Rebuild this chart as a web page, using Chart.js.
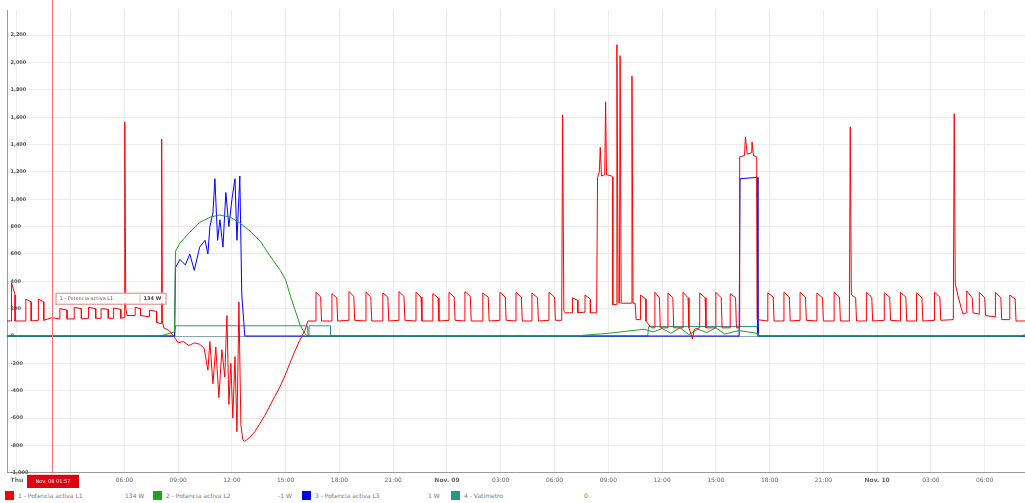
<!DOCTYPE html>
<html>
<head>
<meta charset="utf-8">
<script src="https://cdn.jsdelivr.net/npm/chart.js@4/dist/chart.umd.min.js"></script>
<style>
  body { margin: 0; background: #fff; font-family: "DejaVu Sans", sans-serif; }
  #wrap { position: relative; width: 1025px; height: 503px; }
  #grafico { position: absolute; left: 0; top: 0; }
  #leyenda { position: absolute; left: 0; top: 491px; width: 1025px; height: 12px; font-size: 6px; color: #777; }
  #leyenda span { position: absolute; top: 1px; white-space: nowrap; }
  #leyenda i { position: absolute; top: 0; width: 9px; height: 9px; }
</style>
</head>
<body>
<div id="wrap">
  <canvas id="grafico" width="1025" height="488"></canvas>
  <div id="leyenda"></div>
</div>
<script>
// horas desde Nov. 08 00:00, potencia en W
const rojoL1 = [
  [-0.55,110],[-0.3,110],[-0.3,390],[-0.1,300],[-0.1,110],
  [0.5,110],[0.5,270],[0.8,250],[0.8,110],
  [1.2,115],[1.2,270],[1.5,250],[1.5,115],[1.95,134],
  [2.4,125],[2.4,200],[2.8,190],[2.8,125],
  [3.2,125],[3.2,210],[3.6,200],[3.6,125],
  [4.0,130],[4.0,210],[4.4,200],[4.4,130],
  [4.7,130],[4.7,200],[5.1,195],[5.1,130],
  [5.4,130],[5.4,205],[5.8,195],[5.8,130],
  [6.0,135],[6.02,1566],[6.08,200],[6.15,150],
  [6.6,150],[6.6,210],[6.9,200],[6.9,150],[7.4,140],[7.4,190],[7.8,180],[7.8,100],
  [8.05,90],[8.08,1440],[8.12,110],[8.2,60],
  [8.5,40],[8.8,-10],[9.0,-50],[9.3,-40],[9.6,-70],[9.9,-50],[10.2,-60],[10.45,-90],
  [10.66,-250],[10.77,-40],[10.94,-350],[11.1,-80],[11.27,-450],[11.44,-100],[11.6,-300],[11.72,150],
  [11.83,-500],[11.94,-200],[12.05,-600],[12.17,-150],[12.28,-700],[12.39,250],[12.5,-650],[12.61,-760],
  [12.72,-770],[13.0,-740],[13.28,-700],[13.56,-640],[13.84,-580],[14.12,-510],[14.4,-440],[14.68,-370],
  [14.96,-290],[15.23,-200],[15.51,-110],[15.79,-30],[16.07,40],[16.24,110],
  [16.69,110],[16.69,320],[16.95,285],[17.0,110],
  [17.58,110],[17.58,310],[17.85,280],[17.9,110],
  [18.53,115],[18.53,325],[18.8,290],[18.85,115],
  [19.48,110],[19.48,320],[19.75,285],[19.8,110],
  [20.42,110],[20.42,315],[20.7,285],[20.75,110],
  [21.32,115],[21.32,325],[21.6,290],[21.65,115],
  [22.27,110],[22.27,320],[22.55,285],[22.6,110],
  [23.21,110],[23.21,310],[23.5,280],[23.55,110],
  [24.11,115],[24.11,320],[24.4,285],[24.45,115],
  [25.0,110],[25.0,325],[25.3,290],[25.35,110],
  [26.0,110],[26.0,315],[26.3,285],[26.35,110],
  [26.95,115],[26.95,320],[27.25,285],[27.3,115],
  [27.85,110],[27.85,320],[28.15,285],[28.2,110],
  [28.74,110],[28.74,315],[29.05,280],[29.1,110],
  [29.69,115],[29.69,320],[30.0,285],[30.05,115],
  [30.4,115],[30.45,1617],[30.52,180],[30.6,170],
  [31.0,170],[31.0,280],[31.3,260],[31.3,170],[31.7,175],[31.7,300],[32.0,270],[32.0,170],
  [32.35,170],[32.4,1160],[32.5,1200],[32.55,1380],[32.62,1170],[32.8,1180],[32.85,1713],[32.9,1180],
  [33.2,1170],[33.25,1160],[33.25,230],
  [33.45,230],[33.48,2130],[33.55,250],[33.62,240],[33.66,2050],[33.72,240],[34.1,240],[34.3,240],
  [34.32,1900],[34.38,240],[34.5,240],[34.55,120],
  [34.8,120],[34.8,300],[35.1,270],[35.1,110],[35.4,60],
  [35.6,60],[35.6,320],[35.85,280],[35.9,60],
  [36.33,60],[36.33,315],[36.6,280],[36.65,60],
  [37.17,60],[37.17,320],[37.45,280],[37.5,60],[37.7,-20],[37.8,50],
  [38.1,60],[38.1,315],[38.4,280],[38.45,60],
  [39.0,60],[39.0,320],[39.3,280],[39.35,60],
  [39.8,60],[39.8,310],[40.1,280],[40.15,60],
  [40.3,60],[40.33,1310],[40.6,1320],[40.65,1455],[40.75,1330],[41.0,1340],[41.02,1420],[41.1,1320],
  [41.28,1310],[41.3,120],
  [41.9,110],[41.9,315],[42.2,285],[42.25,110],
  [42.8,110],[42.8,320],[43.1,285],[43.15,110],
  [43.7,115],[43.7,320],[44.0,285],[44.05,115],
  [44.64,110],[44.64,315],[44.95,280],[45.0,110],
  [45.6,110],[45.6,320],[45.9,285],[45.95,110],
  [46.45,110],[46.5,1530],[46.56,300],[46.8,280],[46.85,110],
  [47.4,110],[47.4,320],[47.7,285],[47.75,110],
  [48.4,115],[48.4,315],[48.7,285],[48.75,115],
  [49.3,110],[49.3,320],[49.6,285],[49.65,110],
  [50.2,110],[50.2,315],[50.5,280],[50.55,110],
  [51.2,115],[51.2,320],[51.5,285],[51.55,115],
  [52.25,120],[52.3,1625],[52.36,380],[52.5,300],[52.7,200],[52.8,160],
  [53.0,170],[53.0,330],[53.3,280],[53.35,170],
  [53.7,160],[53.7,320],[54.0,280],[54.05,150],
  [54.6,140],[54.6,320],[54.9,280],[54.95,120],
  [55.4,120],[55.4,300],[55.7,270],[55.75,110],
  [56.25,110]
];

const verdeL2 = [
  [-0.55,0],[8.0,0],[8.4,15],[8.8,30],[8.85,620],[9.1,680],[9.65,760],[10.2,830],[10.8,870],
  [11.3,885],[11.9,870],[12.4,830],[13.0,770],[13.6,690],[14.1,590],[14.7,480],[15.0,410],
  [15.2,320],[15.5,200],[15.8,80],[16.1,10],[16.3,0],
  [31.2,0],[32.0,10],[33.0,20],[34.0,35],[35.0,50],[35.5,30],[36.0,55],[36.5,20],[37.0,60],
  [37.5,10],[38.0,50],[38.5,25],[39.0,60],[39.5,15],[40.3,40],[41.3,20],[41.35,0],
  [56.0,0],[56.25,10]
];

const azulL3 = [
  [-0.55,0],[8.8,0],[8.85,500],[9.1,560],[9.4,520],[9.65,600],[9.9,480],[10.2,650],[10.5,700],
  [10.66,600],[10.77,800],[10.94,900],[11.05,1150],[11.2,700],[11.33,850],[11.5,650],[11.66,1050],
  [11.83,800],[12.0,1000],[12.17,1150],[12.28,700],[12.44,1170],[12.55,300],[12.72,0],
  [40.3,0],[40.35,1150],[41.3,1160],[41.35,0],[56.25,0]
];

const turquesa = [
  [-0.55,0],[8.8,0],[8.85,75],[16.2,75],[16.25,0],[16.3,0],[16.3,75],[17.5,75],[17.5,0],
  [35.2,0],[35.25,70],[41.3,70],[41.35,0],[56.25,0]
];

const yTicks = [-1000, -800, -600, -400, -200, 0, 200, 400, 600, 800, 1000, 1200, 1400, 1600, 1800, 2000, 2200];
const nombres = ['1 - Potencia activa L1', '2 - Potencia activa L2', '3 - Potencia activa L3', '4 - Vatímetro'];
const valoresActuales = ['134 W', '-1 W', '1 W', '0'];
const colores = ['#ff0000', '#1fa21f', '#0000ff', '#23998a'];
const diasEtiquetas = ['Thu', 'Nov. 09', 'Nov. 10'];
const cursorHora = 1.95;
const cursorTexto = 'Nov. 08 01:57';

function hora(v) {
  const h = ((v % 24) + 24) % 24;
  return String(h).padStart(2, '0') + ':00';
}

const pts = arr => arr.map(p => ({ x: p[0], y: p[1] }));

const cursorPlugin = {
  id: 'cursor',
  afterDatasetsDraw(chart) {
    const c = chart.ctx;
    const xs = chart.scales.x, ys = chart.scales.y;
    const area = chart.chartArea;
    const px = Math.round(xs.getPixelForValue(cursorHora)) + 0.5;
    c.save();
    c.strokeStyle = '#ff7070';
    c.lineWidth = 1;
    c.beginPath();
    c.moveTo(px, 0);
    c.lineTo(px, area.bottom);
    c.stroke();

    // caja de valor
    const py = ys.getPixelForValue(134);
    const bx = px + 3, by = py - 25, bw = 110, bh = 11;
    c.fillStyle = 'rgba(255,255,255,0.92)';
    c.fillRect(bx, by, bw, bh);
    c.strokeStyle = '#e08080';
    c.strokeRect(bx + 0.5, by + 0.5, bw, bh);
    c.fillStyle = '#666';
    c.font = '5px "DejaVu Sans"';
    c.textBaseline = 'middle';
    c.fillText(nombres[0], bx + 4, by + bh / 2 + 0.5);
    c.strokeStyle = '#bbb';
    c.beginPath(); c.moveTo(bx + 84.5, by + 2); c.lineTo(bx + 84.5, by + bh - 1); c.stroke();
    c.font = 'bold 5px "DejaVu Sans"';
    c.fillStyle = '#444';
    c.fillText(valoresActuales[0], bx + 88, by + bh / 2 + 0.5);

    // etiqueta del cursor en el eje x
    c.fillStyle = '#e3000f';
    c.fillRect(27, area.bottom + 2, 52, 14);
    c.fillStyle = '#fff';
    c.font = '5px "DejaVu Sans"';
    c.textAlign = 'center';
    c.fillText(cursorTexto, 53, area.bottom + 9);
    c.restore();
  }
};

const dataset = (i, arr, orden) => ({
  label: nombres[i],
  data: pts(arr),
  borderColor: colores[i],
  borderWidth: 1,
  pointRadius: 0,
  tension: 0,
  fill: false,
  order: orden
});

new Chart(document.getElementById('grafico'), {
  type: 'line',
  data: {
    datasets: [
      dataset(0, rojoL1, 1),
      dataset(1, verdeL2, 2),
      dataset(2, azulL3, 3),
      dataset(3, turquesa, 4)
    ]
  },
  options: {
    responsive: false,
    animation: false,
    parsing: false,
    layout: { padding: { left: 0, top: 10, right: 0, bottom: 0 } },
    plugins: { legend: { display: false }, tooltip: { enabled: false } },
    scales: {
      x: {
        type: 'linear',
        min: -0.55,
        max: 56.25,
        border: { color: '#9a9a9a' },
        grid: { color: '#ececec', drawTicks: false },
        ticks: {
          stepSize: 3,
          includeBounds: false,
          maxRotation: 0,
          autoSkip: false,
          padding: 4,
          color: '#666',
          font: ctx => ({ family: 'DejaVu Sans', size: 6, weight: (ctx.tick && ctx.tick.value % 24 === 0) ? 'bold' : 'normal' }),
          callback: v => {
            if (v === 3) return '';
            if (v % 24 === 0) return diasEtiquetas[v / 24];
            return hora(v);
          }
        }
      },
      y: {
        min: -1000,
        max: 2384,
        afterBuildTicks: axis => { axis.ticks = yTicks.map(v => ({ value: v })); },
        border: { color: '#9a9a9a' },
        grid: {
          drawTicks: false,
          color: ctx => ctx.tick && ctx.tick.value === 0 ? '#8aa5b0' : '#ececec'
        },
        ticks: {
          mirror: true,
          padding: 3.5,
          color: '#555',
          font: { family: 'DejaVu Sans', size: 5, weight: 'bold' },
          callback: v => v.toLocaleString('en-US')
        }
      }
    }
  },
  plugins: [cursorPlugin]
});

// leyenda inferior
const leyendaEl = document.getElementById('leyenda');
const posX = [5, 153, 302, 451];
const posValor = [125, 278, 428, 584];
nombres.forEach((n, i) => {
  leyendaEl.innerHTML += `<i style="left:${posX[i]}px;background:${colores[i]}"></i>` +
    `<span style="left:${posX[i] + 13}px">${n}</span>` +
    `<span style="left:${posValor[i]}px">${valoresActuales[i]}</span>`;
});
</script>
</body>
</html>
